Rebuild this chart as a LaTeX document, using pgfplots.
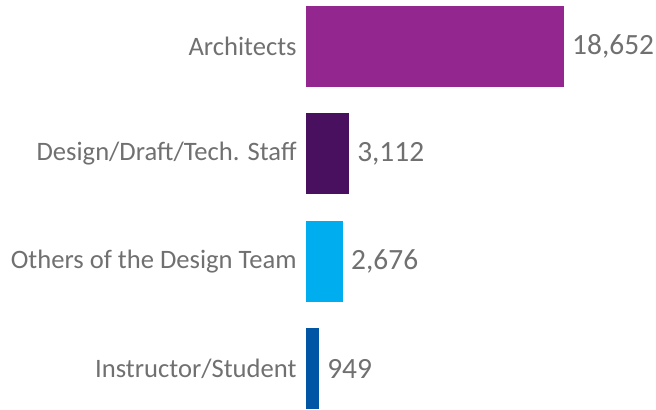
\documentclass[border=0pt]{standalone}
\usepackage{pgfplots}
\pgfplotsset{compat=1.18}
\usepackage{fontspec}
\setmainfont{Carlito}
\definecolor{cArch}{HTML}{93278F}
\definecolor{cDes}{HTML}{4A1060}
\definecolor{cOth}{HTML}{00AEEF}
\definecolor{cIns}{HTML}{0055A5}
\definecolor{txt}{HTML}{707070}
\begin{document}
\begin{tikzpicture}
\useasboundingbox (0,0) rectangle (656bp,410bp);
\begin{axis}[
  at={(306bp,0bp)}, anchor=south west,
  scale only axis, width=350bp, height=410bp,
  xmin=0, xmax=25300, ymin=-0.3867, ymax=3.4333,
  xbar, bar shift=0pt, bar width=81bp,
  axis line style={draw=none}, tick style={draw=none},
  xtick=\empty, ytick={0,1,2,3},
  yticklabels={Instructor/Student,Others of the Design Team,Design/Draft/Tech. Staff,Architects},
  yticklabel style={font=\fontsize{26.7}{30}\selectfont, text=txt, inner sep=0pt, xshift=-5bp},
  nodes near coords,
  nodes near coords style={font=\fontsize{29.5}{32}\selectfont, text=txt, anchor=west, inner sep=0pt, xshift=8bp, /pgf/number format/1000 sep={,}, /pgf/number format/assume math mode=true},
  /pgf/number format/assume math mode=true,
  clip=false,
]
\addplot[fill=cArch, draw=none] coordinates {(18652,3)};
\addplot[fill=cDes, draw=none] coordinates {(3112,2)};
\addplot[fill=cOth, draw=none] coordinates {(2676,1)};
\addplot[fill=cIns, draw=none] coordinates {(949,0)};
\end{axis}
\end{tikzpicture}
\end{document}
